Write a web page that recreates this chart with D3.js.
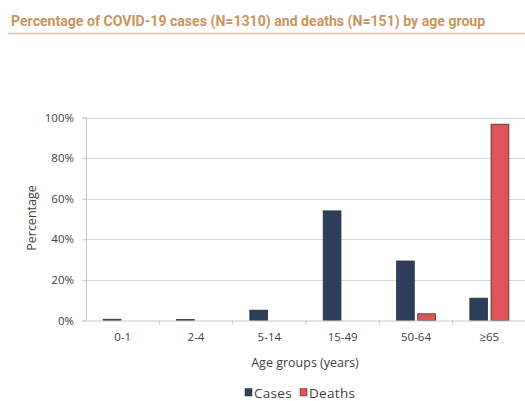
<!DOCTYPE html>
<html><head><meta charset="utf-8">
<script src="https://cdn.jsdelivr.net/npm/d3@7"></script>
<style>
body{margin:0;background:#fff;}
svg{display:block;}
</style></head>
<body>
<svg id="chart" width="525" height="401"></svg>
<script>
const categories = ["0-1","2-4","5-14","15-49","50-64","\u226565"];
const seriesNames = ["Cases","Deaths"];
const cases = [0.6, 0.5, 5.1, 54.0, 29.3, 11.0];
const deaths = [0, 0, 0, 0, 3.3, 96.7];
const yTicks = [0, 20, 40, 60, 80, 100];
const colors = ["#2c3e5a", "#e05358"];

const svg = d3.select("#chart");
const margin = {left: 86, right: 526, top: 117.5, bottom: 320.5};
const x0 = d3.scaleBand().domain(categories).range([margin.left, margin.right]).padding(0);
const bw = x0.bandwidth();
const x1 = d3.scaleBand().domain(seriesNames).range([bw/2 - 19.5, bw/2 + 19.5]).paddingInner(0.16);
const y = d3.scaleLinear().domain([0, 100]).range([margin.bottom, margin.top]);

// title
svg.append("text").attr("x", 11).attr("y", 25.5)
  .attr("font-family", "Roboto").attr("font-weight", "bold").attr("font-size", 14.1)
  .attr("fill", "#c8955f").text("Percentage of COVID-19 cases (N=1310) and deaths (N=151) by age group");
svg.append("line").attr("x1", 8).attr("x2", 525).attr("y1", 33.5).attr("y2", 33.5)
  .attr("stroke", "#dcc0a0").attr("stroke-width", 1.5);

// gridlines
svg.append("g").selectAll("line").data(yTicks.slice(1)).join("line")
  .attr("x1", margin.left).attr("x2", 525)
  .attr("y1", d => Math.round(y(d)) + 0.5).attr("y2", d => Math.round(y(d)) + 0.5)
  .attr("stroke", "#d9d9d9").attr("stroke-width", 1);

// y axis
const yAxis = d3.axisLeft(y).tickValues(yTicks).tickFormat(d => d + "%").tickSize(4).tickPadding(8);
const gy = svg.append("g").attr("transform", `translate(${margin.left},0)`).call(yAxis);
gy.select(".domain").attr("stroke", "#c8c8c8");
gy.selectAll(".tick line").attr("stroke", "#c8c8c8");
gy.selectAll(".tick text").attr("font-family", "Open Sans").attr("font-size", 11.5).attr("fill", "#404040");

// bars
const data = categories.map((c, i) => ({cat: c, vals: [{k: "Cases", v: cases[i]}, {k: "Deaths", v: deaths[i]}]}));
const groups = svg.append("g").selectAll("g").data(data).join("g")
  .attr("transform", d => `translate(${x0(d.cat)},0)`);
groups.selectAll("rect").data(d => d.vals.filter(e => e.v > 0)).join("rect")
  .attr("x", d => x1(d.k)).attr("width", x1.bandwidth())
  .attr("y", d => y(d.v)).attr("height", d => y(0) - y(d.v))
  .attr("fill", d => colors[seriesNames.indexOf(d.k)])
  .attr("stroke", "#333").attr("stroke-width", 0.8);

// x axis
const xAxis = d3.axisBottom(x0).tickSize(0).tickPadding(12);
const gx = svg.append("g").attr("transform", `translate(0,${margin.bottom})`).call(xAxis);
gx.select(".domain").attr("stroke", "#c8c8c8");
gx.selectAll(".tick text").attr("font-family", "Open Sans").attr("font-size", 11.5).attr("fill", "#404040");
// category boundary ticks
gx.append("g").selectAll("line").data(categories.slice(1)).join("line")
  .attr("x1", d => x0(d)).attr("x2", d => x0(d)).attr("y1", 0).attr("y2", 4)
  .attr("stroke", "#c8c8c8");

// axis titles
svg.append("text").attr("transform", "translate(36,218) rotate(-90)").attr("text-anchor", "middle")
  .attr("font-family", "Open Sans").attr("font-size", 12.5).attr("fill", "#404040").text("Percentage");
svg.append("text").attr("x", 305).attr("y", 367).attr("text-anchor", "middle")
  .attr("font-family", "Open Sans").attr("font-size", 12.5).attr("fill", "#404040").text("Age groups (years)");

// legend
const legendX = [245, 300];
const lg = svg.append("g").selectAll("g").data(seriesNames).join("g")
  .attr("transform", (d, i) => `translate(${legendX[i]},388.5)`);
lg.append("rect").attr("width", 7).attr("height", 7.5).attr("fill", (d, i) => colors[i])
  .attr("stroke", "#333").attr("stroke-width", 0.5);
lg.append("text").attr("x", 9).attr("y", 9.5).attr("font-family", "Open Sans").attr("font-size", 13.5)
  .attr("letter-spacing", 0.3).attr("fill", "#404040").text(d => d);
</script>
</body></html>
